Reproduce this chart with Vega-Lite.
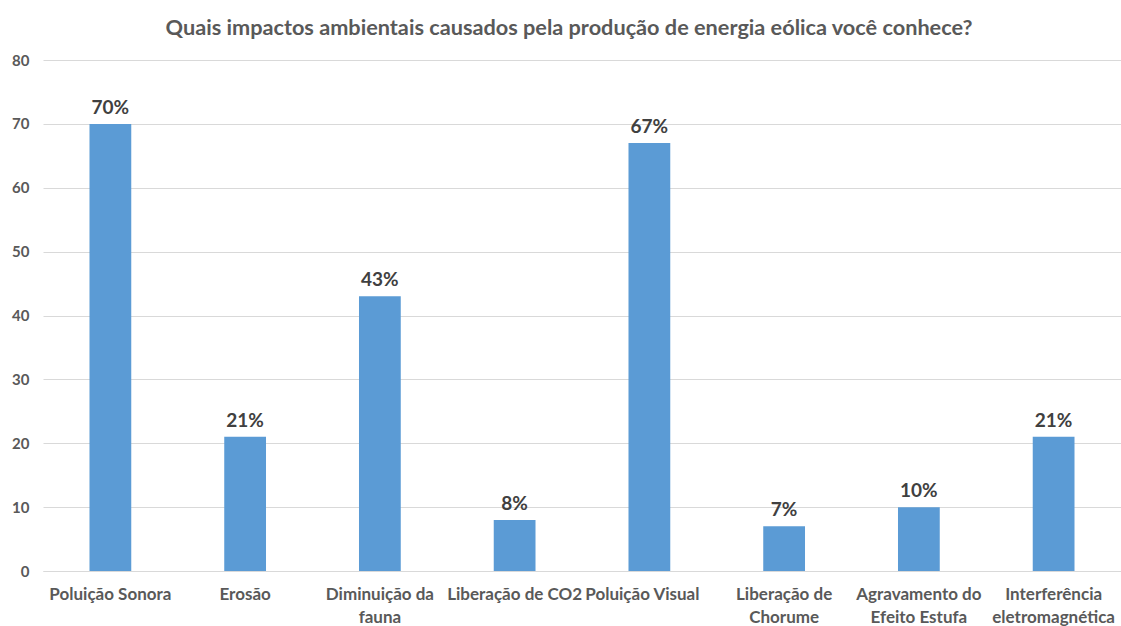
{
  "$schema": "https://vega.github.io/schema/vega-lite/v6.json",
  "autosize": {"type": "none"},
  "padding": {"left": 43, "top": 60, "right": 0, "bottom": 55},
  "width": 1078,
  "height": 511,
  "background": "white",
  "title": {
    "text": "Quais impactos ambientais causados pela produção de energia eólica você conhece?",
    "font": "Lato",
    "fontSize": 21.7,
    "fontWeight": "bold",
    "color": "#595959",
    "anchor": "middle",
    "dx": -13,
    "offset": 13
  },
  "data": {
    "values": [
      {"impacto": "Poluição Sonora", "percentual": 70},
      {"impacto": "Erosão", "percentual": 21},
      {"impacto": "Diminuição da fauna", "percentual": 43},
      {"impacto": "Liberação de CO2", "percentual": 8},
      {"impacto": "Poluição Visual", "percentual": 67},
      {"impacto": "Liberação de Chorume", "percentual": 7},
      {"impacto": "Agravamento do Efeito Estufa", "percentual": 10},
      {"impacto": "Interferência eletromagnética", "percentual": 21}
    ]
  },
  "encoding": {
    "x": {
      "field": "impacto",
      "type": "nominal",
      "sort": null,
      "scale": {"paddingInner": 0.69, "paddingOuter": 0.345},
      "axis": {
        "title": null,
        "labelAngle": 0,
        "labelFont": "Lato",
        "labelFontSize": 17,
        "labelFontWeight": "bold",
        "labelColor": "#595959",
        "labelPadding": 15,
        "labelLimit": 300,
        "labelOverlap": false,
        "labelLineHeight": 23,
        "labelOffset": {"condition": {"test": "datum.value == 'Poluição Visual'", "value": -7}, "value": 0},
        "ticks": false,
        "domain": true,
        "domainColor": "#D9D9D9",
        "grid": false,
        "labelExpr": "datum.value == 'Diminuição da fauna' ? ['Diminuição da', 'fauna'] : datum.value == 'Liberação de Chorume' ? ['Liberação de', 'Chorume'] : datum.value == 'Agravamento do Efeito Estufa' ? ['Agravamento do', 'Efeito Estufa'] : datum.value == 'Interferência eletromagnética' ? ['Interferência', 'eletromagnética'] : datum.value"
      }
    },
    "y": {
      "field": "percentual",
      "type": "quantitative",
      "scale": {"domain": [0, 80]},
      "axis": {
        "title": null,
        "values": [0, 10, 20, 30, 40, 50, 60, 70, 80],
        "labelFont": "Lato",
        "labelFontSize": 15,
        "labelFontWeight": "bold",
        "labelColor": "#595959",
        "labelPadding": 14,
        "ticks": false,
        "domain": false,
        "grid": true,
        "gridColor": "#D9D9D9",
        "gridWidth": 1
      }
    }
  },
  "layer": [
    {"mark": {"type": "bar", "color": "#5B9BD5"}},
    {
      "mark": {
        "type": "text",
        "font": "Lato",
        "fontSize": 19,
        "fontWeight": "bold",
        "color": "#404040",
        "baseline": "alphabetic",
        "dy": -10,
        "text": {"expr": "datum.percentual + '%'"}
      }
    }
  ],
  "config": {"view": {"stroke": null}}
}
